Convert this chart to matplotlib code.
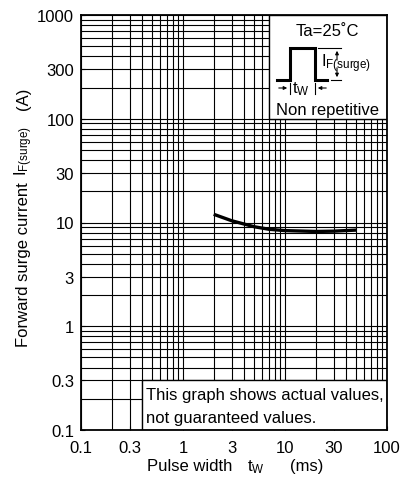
import matplotlib
matplotlib.use("Agg")
import matplotlib.pyplot as plt
from matplotlib.patches import Rectangle, FancyArrowPatch
from matplotlib.lines import Line2D
from matplotlib.ticker import LogLocator, FixedLocator, FixedFormatter, NullFormatter

plt.rcParams['font.family'] = ['Liberation Sans', 'DejaVu Sans']
plt.rcParams['mathtext.fontset'] = 'custom'
plt.rcParams['mathtext.rm'] = 'Liberation Sans'
plt.rcParams['mathtext.it'] = 'Liberation Sans'

# data
pulse_width_ms = [2, 3, 5, 7, 10, 20, 30, 50]
surge_current_a = [12.0, 10.4, 9.1, 8.6, 8.35, 8.2, 8.25, 8.45]

x_ticks = [0.1, 0.3, 1, 3, 10, 30, 100]
x_labels = ["0.1", "0.3", "1", "3", "10", "30", "100"]
y_ticks = [0.1, 0.3, 1, 3, 10, 30, 100, 300, 1000]
y_labels = ["0.1", "0.3", "1", "3", "10", "30", "100", "300", "1000"]

W, H = 414, 489
fig = plt.figure(figsize=(W / 100, H / 100), dpi=100)
ax = fig.add_axes([81 / W, 1 - 431 / H, (387 - 81) / W, (431 - 16) / H])
ax.set_xscale('log')
ax.set_yscale('log')
ax.set_xlim(0.1, 100)
ax.set_ylim(0.1, 1000)

fs = 12
ax.xaxis.set_major_locator(FixedLocator(x_ticks))
ax.xaxis.set_major_formatter(FixedFormatter(x_labels))
ax.yaxis.set_major_locator(FixedLocator(y_ticks))
ax.yaxis.set_major_formatter(FixedFormatter(y_labels))
ax.xaxis.set_minor_locator(LogLocator(base=10, subs=range(1, 10), numticks=20))
ax.yaxis.set_minor_locator(LogLocator(base=10, subs=range(1, 10), numticks=20))
ax.xaxis.set_minor_formatter(NullFormatter())
ax.yaxis.set_minor_formatter(NullFormatter())
ax.tick_params(which='major', direction='in', length=3, width=0.8, labelsize=fs, color='black')
ax.tick_params(axis='x', which='major', pad=7)
ax.tick_params(axis='y', which='major', pad=5)
ax.tick_params(which='minor', length=0)

ax.set_axisbelow(True)
ax.grid(True, which='both', color='black', linewidth=0.8)
for s in ax.spines.values():
    s.set_linewidth(1.3)
    s.set_color('black')

# boxes covering grid
ax.add_patch(Rectangle((0.4, 0.1), 100 - 0.4, 0.3 - 0.1, facecolor='white',
                       edgecolor='black', linewidth=1.0, zorder=2))
ax.add_patch(Rectangle((7, 100), 100 - 7, 1000 - 100, facecolor='white',
                       edgecolor='black', linewidth=1.0, zorder=2))

# curve
ax.plot(pulse_width_ms, surge_current_a, color='black', linewidth=2.4, zorder=3,
        solid_capstyle='butt')


def fx(x):
    return x / W


def fy(y):
    return 1 - y / H


# texts in bottom box
fig.text(fx(146), fy(396), "This graph shows actual values,", fontsize=fs, va='center', ha='left')
fig.text(fx(146), fy(419), "not guaranteed values.", fontsize=fs, va='center', ha='left')

# top-right legend box
fig.text(fx(327), fy(32), "Ta=25˚C", fontsize=fs, ha='center', va='center')
fig.text(fx(328), fy(111), "Non repetitive", fontsize=fs, ha='center', va='center')


def fline(xs, ys, lw=1.0):
    fig.add_artist(Line2D([fx(v) for v in xs], [fy(v) for v in ys], color='black',
                          linewidth=lw, solid_joinstyle='miter'))


def farrow(p0, p1):
    fig.add_artist(FancyArrowPatch((fx(p0[0]), fy(p0[1])), (fx(p1[0]), fy(p1[1])),
                                   transform=fig.transFigure, arrowstyle='-|>',
                                   mutation_scale=5, color='black', lw=0.8))


# pulse shape
fline([277, 290, 290, 315, 315, 327], [81, 81, 49, 49, 81, 81], lw=2.2)
# IF dimension
fline([318, 341], [49, 49], lw=0.8)
fline([331, 341], [81, 81], lw=0.8)
farrow((337, 64), (337, 49))
farrow((337, 66), (337, 81))
fig.text(fx(321), fy(64), r"I$_{\mathrm{F(surge)}}$", fontsize=fs, ha='left', va='center')
# tw dimension
fline([290, 290], [84, 95], lw=0.8)
fline([315, 315], [84, 95], lw=0.8)
farrow((276, 89), (290, 89))
farrow((329, 89), (315, 89))
fig.text(fx(301), fy(89), r"t$_{\mathrm{W}}$", fontsize=fs, ha='center', va='center')

# axis labels
fig.text(fx(190), fy(467), "Pulse width", fontsize=fs, ha='center', va='center')
fig.text(fx(256), fy(467), r"t$_{\mathrm{W}}$", fontsize=fs, ha='center', va='center')
fig.text(fx(307), fy(467), "(ms)", fontsize=fs, ha='center', va='center')
fig.text(fx(24), fy(265), "Forward surge current", fontsize=fs,
         ha='center', va='center', rotation=90)
fig.text(fx(24), fy(151), r"I$_{\mathrm{F(surge)}}$", fontsize=fs,
         ha='center', va='center', rotation=90)
fig.text(fx(24), fy(99), "(A)", fontsize=fs,
         ha='center', va='center', rotation=90)

fig.savefig('out.png', dpi=100)
